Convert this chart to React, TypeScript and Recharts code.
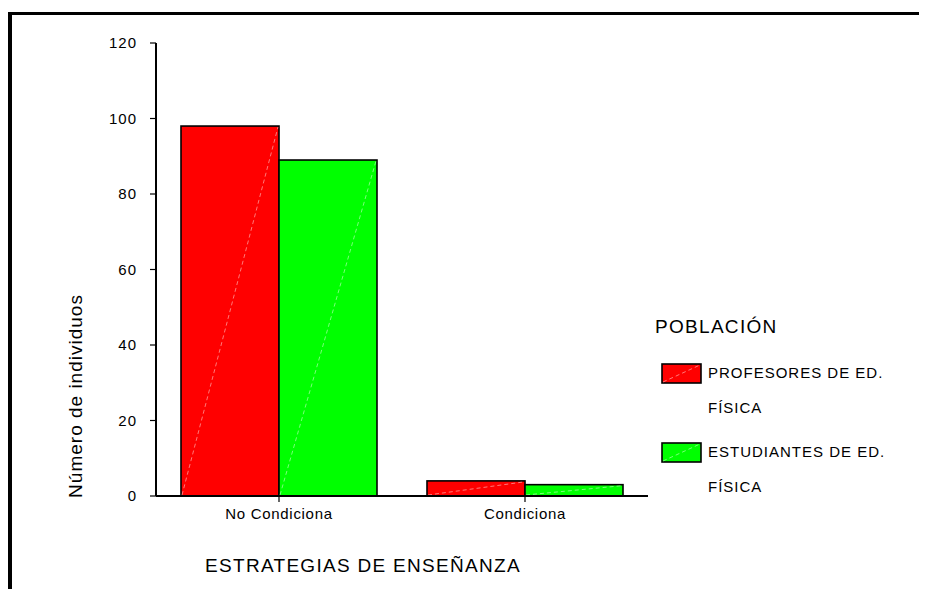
import { Bar, BarChart, Legend, XAxis, YAxis } from "recharts";

const categories = ["No Condiciona", "Condiciona"];
const profesores = [98, 4];
const estudiantes = [89, 3];
const seriesNames = ["PROFESORES DE ED. FÍSICA", "ESTUDIANTES DE ED. FÍSICA"];
const seriesColors = ["#ff0000", "#00ff00"];
const yTicks = [0, 20, 40, 60, 80, 100, 120];
const legendTitle = "POBLACIÓN";
const xTitle = "ESTRATEGIAS DE ENSEÑANZA";
const yTitle = "Número de individuos";

const data = categories.map((name, i) => ({
  name,
  profesores: profesores[i],
  estudiantes: estudiantes[i],
}));

const font = "Arial, 'Liberation Sans', sans-serif";

// bar with the faint white diagonal that the original export has
const SlashBar = (props: any) => {
  const { x, y, width, height, fill } = props;
  if (!height || height <= 0) return null;
  return (
    <g>
      <rect x={x} y={y} width={width} height={height} fill={fill} stroke="#000" strokeWidth={1.6} />
      <line
        x1={x + 1}
        y1={y + height - 1}
        x2={x + width - 1}
        y2={y + 1}
        stroke="#fff"
        strokeOpacity={0.6}
        strokeWidth={0.8}
        strokeDasharray="4 3"
      />
    </g>
  );
};

const Swatch = ({ color }: { color: string }) => (
  <svg width={41} height={21} style={{ position: "absolute", left: 0, top: 0 }}>
    <rect x={1} y={1} width={39} height={19} fill={color} stroke="#000" strokeWidth={1.6} />
    <line x1={2} y1={19} x2={39} y2={2} stroke="#fff" strokeOpacity={0.6} strokeWidth={0.8} strokeDasharray="4 3" />
  </svg>
);

const renderLegend = (props: any) => {
  const items = (props.payload && props.payload.length
    ? [...props.payload]
    : seriesNames.map((n, i) => ({ value: n, color: seriesColors[i] }))
  ).sort((a: any, b: any) => seriesNames.indexOf(a.value) - seriesNames.indexOf(b.value));
  return (
    <div style={{ position: "relative", width: 270, height: 210, fontFamily: font, color: "#000" }}>
      <div style={{ position: "absolute", left: 8, top: 15, fontSize: 19, lineHeight: "24px", letterSpacing: 1.3 }}>
        {legendTitle}
      </div>
      {items.map((entry: any, i: number) => {
        const words = String(entry.value).split(" ");
        const last = words.pop();
        return (
          <div key={entry.value} style={{ position: "absolute", left: 14, top: 63 + i * 79 }}>
            <Swatch color={entry.color} />
            <div
              style={{
                position: "absolute",
                left: 47,
                top: -8,
                whiteSpace: "nowrap",
                fontSize: 15,
                lineHeight: "35px",
                letterSpacing: 1,
              }}
            >
              {words.join(" ")}
              <br />
              {last}
            </div>
          </div>
        );
      })}
    </div>
  );
};

const XTitle = (props: any) => {
  const { viewBox } = props;
  return (
    <text
      x={viewBox.x + 207}
      y={viewBox.y + 76}
      textAnchor="middle"
      fontFamily={font}
      fontSize={19}
      letterSpacing={1.3}
      fill="#000"
    >
      {xTitle}
    </text>
  );
};

const YTitle = (props: any) => {
  const { viewBox } = props;
  const cx = viewBox.x - 41;
  const cy = viewBox.y + 353;
  return (
    <text
      x={cx}
      y={cy}
      transform={`rotate(-90, ${cx}, ${cy})`}
      textAnchor="middle"
      dominantBaseline="central"
      fontFamily={font}
      fontSize={19}
      letterSpacing={1}
      fill="#000"
    >
      {yTitle}
    </text>
  );
};

export default function App() {
  return (
    <div style={{ position: "relative", width: 919, height: 581, background: "#fff" }}>
      <style>{"html,body{overflow:hidden}"}</style>
      <div
        style={{
          position: "absolute",
          left: 0,
          top: 4,
          width: 960,
          height: 600,
          borderLeft: "4px solid #000",
          borderTop: "3px solid #000",
        }}
      />
      <div style={{ position: "absolute", left: 0, top: 0 }}>
        <BarChart
          width={919}
          height={581}
          data={data}
          margin={{ top: 35, right: 279, bottom: 63, left: 108 }}
          barCategoryGap={25}
          barGap={0}
        >
          <XAxis
            dataKey="name"
            height={30}
            axisLine={{ stroke: "#000", strokeWidth: 2 }}
            tickLine={{ stroke: "#000", strokeWidth: 1.2 }}
            tickSize={6}
            tickMargin={6}
            tick={{ fill: "#000", fontSize: 15, fontFamily: font, letterSpacing: 0.7 }}
            label={XTitle}
          />
          <XAxis
            xAxisId="top"
            dataKey="name"
            orientation="top"
            height={0}
            tick={false}
            tickLine={false}
            axisLine={{ stroke: "#000", strokeWidth: 1.5 }}
          />
          <YAxis
            domain={[0, 120]}
            ticks={yTicks}
            width={40}
            interval={0}
            axisLine={{ stroke: "#000", strokeWidth: 2 }}
            tickLine={{ stroke: "#000", strokeWidth: 1.2 }}
            tickSize={6}
            tickMargin={13}
            tick={{ fill: "#000", fontSize: 15, fontFamily: font, letterSpacing: 1 }}
            label={YTitle}
          />
          <YAxis
            yAxisId="right"
            orientation="right"
            domain={[0, 120]}
            width={0}
            tick={false}
            tickLine={false}
            axisLine={{ stroke: "#000", strokeWidth: 2 }}
          />
          <Legend
            layout="vertical"
            align="center"
            verticalAlign="middle"
            itemSorter={null}
            content={renderLegend}
            wrapperStyle={{ left: 639, top: 292, width: 270 }}
          />
          <Bar
            dataKey="profesores"
            name={seriesNames[0]}
            fill={seriesColors[0]}
            shape={SlashBar}
            isAnimationActive={false}
          />
          <Bar
            dataKey="estudiantes"
            name={seriesNames[1]}
            fill={seriesColors[1]}
            shape={SlashBar}
            isAnimationActive={false}
          />
        </BarChart>
      </div>
    </div>
  );
}
